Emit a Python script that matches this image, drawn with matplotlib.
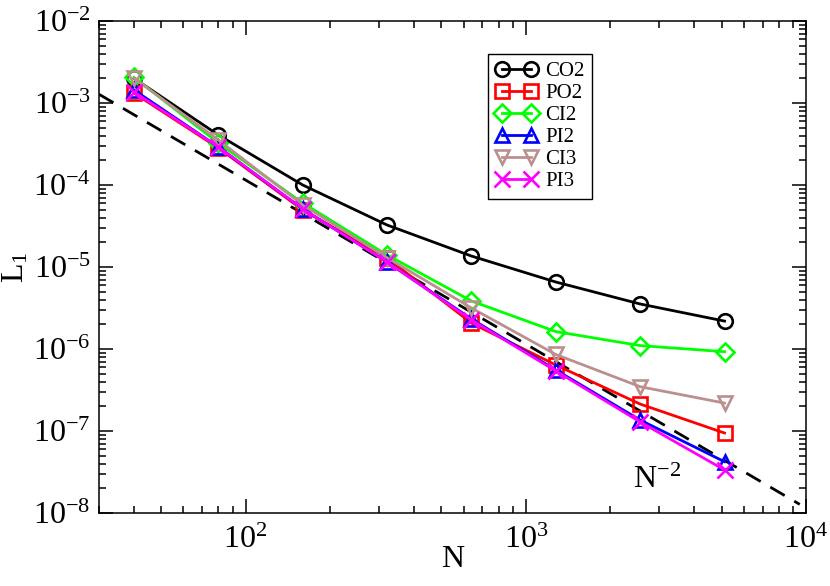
import matplotlib
matplotlib.use('Agg')
import matplotlib.pyplot as plt
import numpy as np

################################################################################
# data (L1 error vs number of cells N)
################################################################################

N = [40, 80, 160, 320, 640, 1280, 2560, 5120]

CO2 = [2.0e-3, 4.07e-4, 1.0e-4, 3.25e-5, 1.36e-5, 6.56e-6, 3.54e-6, 2.19e-6]
PO2 = [1.32e-3, 2.83e-4, 4.96e-5, 1.29e-5, 2.07e-6, 6.38e-7, 2.13e-7, 9.45e-8]
CI2 = [2.05e-3, 3.25e-4, 6.03e-5, 1.40e-5, 3.85e-6, 1.63e-6, 1.10e-6, 9.27e-7]
PI2 = [1.44e-3, 2.91e-4, 5.10e-5, 1.15e-5, 2.32e-6, 5.55e-7, 1.36e-7, 4.22e-8]
CI3 = [2.0e-3, 3.54e-4, 5.70e-5, 1.30e-5, 3.16e-6, 8.57e-7, 3.47e-7, 2.19e-7]
PI3 = [1.36e-3, 2.91e-4, 5.10e-5, 1.15e-5, 2.26e-6, 5.40e-7, 1.29e-7, 3.35e-8]

# reference slope line C * N^-2
refN = [30, 9500]
refCoef = 1.15

################################################################################

plt.rcParams['font.family'] = ['Liberation Serif', 'DejaVu Serif']
plt.rcParams['mathtext.fontset'] = 'custom'
plt.rcParams['mathtext.rm'] = 'Liberation Serif'
plt.rcParams['mathtext.it'] = 'Liberation Serif:italic'

fig = plt.figure(figsize=(8.3, 5.86), dpi=100)
ax = fig.add_axes([99/830, 73/586, 707/830, 492/586])

lw = 2.0
ms = 10.5
mew = 1.9

series = [
   ('CO2', CO2, 'black',   'o'),
   ('PO2', PO2, '#ff0000', 's'),
   ('CI2', CI2, '#00ff00', 'D'),
   ('PI2', PI2, '#0000ff', '^'),
   ('CI3', CI3, '#bc8f8f', 'v'),
   ('PI3', PI3, '#ff00ff', 'x'),
]

refX = np.array(refN, dtype=float)
ax.plot(refX, refCoef * refX**-2.0, color='black', lw=2.0, dashes=(6, 4), zorder=1)

for name, vals, col, mk in series:
   msz = ms
   if mk == 'x':
      msz = ms + 1.0
   if mk == 'D':
      msz = ms - 1.5
   ax.plot(N, vals, color=col, lw=lw, marker=mk, ms=msz, mew=mew,
           mfc='none', mec=col, label=name)

ax.set_xscale('log')
ax.set_yscale('log')
ax.set_xlim(30, 1e4)
ax.set_ylim(1e-8, 1e-2)

ax.tick_params(which='both', direction='in', top=True, right=True, width=1.1)
ax.tick_params(which='major', length=10, labelsize=23, pad=6)
ax.tick_params(which='minor', length=5)
ax.tick_params(axis='x', which='major', pad=9)
for sp in ax.spines.values():
   sp.set_linewidth(1.1)

ax.set_xlabel('N', fontsize=23, labelpad=-7)
ax.set_ylabel(r'L$_1$', fontsize=23, labelpad=2)

ax.text(2415, 2.0e-8, r'N$^{-2}$', fontsize=23, va='baseline')

leg = ax.legend(loc='upper left', bbox_to_anchor=(488/830, 1 - 54/586),
                bbox_transform=fig.transFigure, borderaxespad=0,
                fontsize=15, numpoints=2, handlelength=2.0,
                handletextpad=0.4, labelspacing=0.12, borderpad=0.35,
                fancybox=False, framealpha=1, edgecolor='black')
leg.get_frame().set_linewidth(1.0)

fig.savefig('out.png', dpi=100)
